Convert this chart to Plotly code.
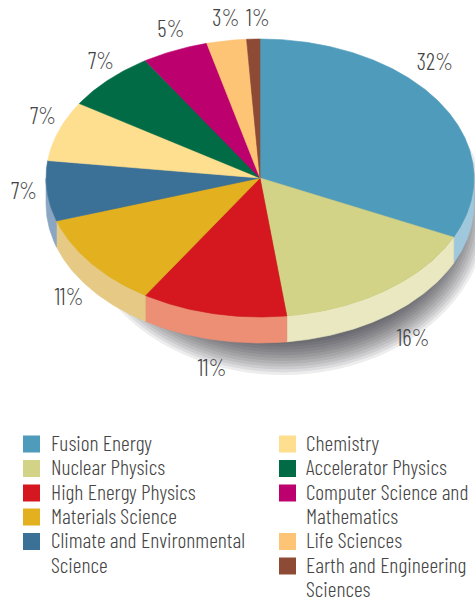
import math
import plotly.graph_objects as go

categories = ["Fusion Energy", "Nuclear Physics", "High Energy Physics", "Materials Science",
              "Climate and Environmental Science", "Chemistry", "Accelerator Physics",
              "Computer Science and Mathematics", "Life Sciences", "Earth and Engineering Sciences"]
values = [32, 16, 11, 11, 7, 7, 7, 5, 3, 1]
top_colors = ["#4F9BBB", "#D3D387", "#D5181F", "#E3B01F", "#3C7197",
              "#FDDF8F", "#006B45", "#BC006E", "#FDC476", "#8D4A35"]
side_colors = ["#A0C8DC", "#EAE8C0", "#EC8F75", "#E5C985", "#8BA6C3",
               "#FDDF8F", "#006B45", "#BC006E", "#FDC476", "#8D4A35"]
label_pos = [(435, 64), (413, 340), (212, 370), (69, 299), (24, 193),
             (43, 118), (101, 63), (171, 31), (226, 20), (258, 20)]
legend_lines = [["Fusion Energy"], ["Nuclear Physics"], ["High Energy Physics"], ["Materials Science"],
                ["Climate and Environmental", "Science"], ["Chemistry"], ["Accelerator Physics"],
                ["Computer Science and", "Mathematics"], ["Life Sciences"], ["Earth and Engineering", "Sciences"]]

CX, CY, RX, RY, DEPTH = 260, 178, 214, 139, 26
FONT = "'Barlow Condensed', 'Archivo Narrow', 'Barlow Semi Condensed', Roboto, sans-serif"
TEXT = "#454545"

def pt(deg, dy=0, cx=CX, cy=CY, rx=RX, ry=RY):
    a = math.radians(deg)
    return cx + rx * math.sin(a), cy - ry * math.cos(a) + dy

def arc(a0, a1, dy=0, **kw):
    n = max(2, int(abs(a1 - a0)) * 2 + 2)
    return [pt(a0 + (a1 - a0) * i / (n - 1), dy, **kw) for i in range(n)]

def poly(pts, color, line=None):
    trace = dict(x=[p[0] for p in pts] + [pts[0][0]], y=[p[1] for p in pts] + [pts[0][1]],
                 fill="toself", fillcolor=color, hoverinfo="skip", showlegend=False)
    if line:
        return go.Scatter(mode="lines", line=dict(width=0.6, color=line), **trace)
    return go.Scatter(mode="none", **trace)

fig = go.Figure()

# soft shadow
N = 13
for i in range(N):
    t = i / (N - 1)
    pts = arc(0, 360, cx=283, cy=213, rx=172 + 32 * (1 - t), ry=128 + 34 * (1 - t))
    fig.add_trace(poly(pts, "rgba(30,30,35,0.08)"))

total = sum(values)
edges = [0]
for v in values:
    edges.append(edges[-1] + v / total * 360)

# visible rim
for i in range(len(values)):
    a0, a1 = max(edges[i], 90), min(edges[i + 1], 270)
    if a1 > a0:
        fig.add_trace(poly(arc(a0, a1) + arc(a1, a0, DEPTH), side_colors[i], side_colors[i]))

# top face
for i in range(len(values)):
    fig.add_trace(poly([(CX, CY)] + arc(edges[i], edges[i + 1]), top_colors[i], top_colors[i]))

# percent labels
fig.add_trace(go.Scatter(x=[p[0] for p in label_pos], y=[p[1] for p in label_pos],
                         mode="text", text=[f"{v}%" for v in values],
                         textposition="middle center",
                         textfont=dict(family=FONT, size=23, color=TEXT, weight=300),
                         hoverinfo="skip", showlegend=False))

# legend
ROW_Y = [445.5, 470, 494.5, 518.5, 543, 567.5, 591.5]
COLS = [(31.5, 51), (287.5, 306)]
row, col = 0, 0
for i, name in enumerate(categories):
    if i == 5:
        row, col = 0, 1
    sx, tx = COLS[col]
    fig.add_trace(go.Scatter(x=[sx], y=[ROW_Y[row] - 1.5], mode="markers",
                             marker=dict(symbol="square", size=17, color=top_colors[i], line=dict(width=0)),
                             name=name, hoverinfo="skip", showlegend=False))
    for ln in legend_lines[i]:
        fig.add_trace(go.Scatter(x=[tx], y=[ROW_Y[row]], mode="text", text=[ln],
                                 textposition="middle right",
                                 textfont=dict(family=FONT, size=21.6, color=TEXT, weight=300),
                                 hoverinfo="skip", showlegend=False))
        row += 1

fig.update_layout(width=475, height=600, margin=dict(l=0, r=0, t=0, b=0),
                  paper_bgcolor="white", plot_bgcolor="white",
                  xaxis=dict(range=[0, 475], visible=False, fixedrange=True),
                  yaxis=dict(range=[600, 0], visible=False, fixedrange=True),
                  showlegend=False)
fig.write_html("out.html", config={"displayModeBar": False},
               post_script="document.body.style.margin='0';document.body.style.overflow='hidden';")
